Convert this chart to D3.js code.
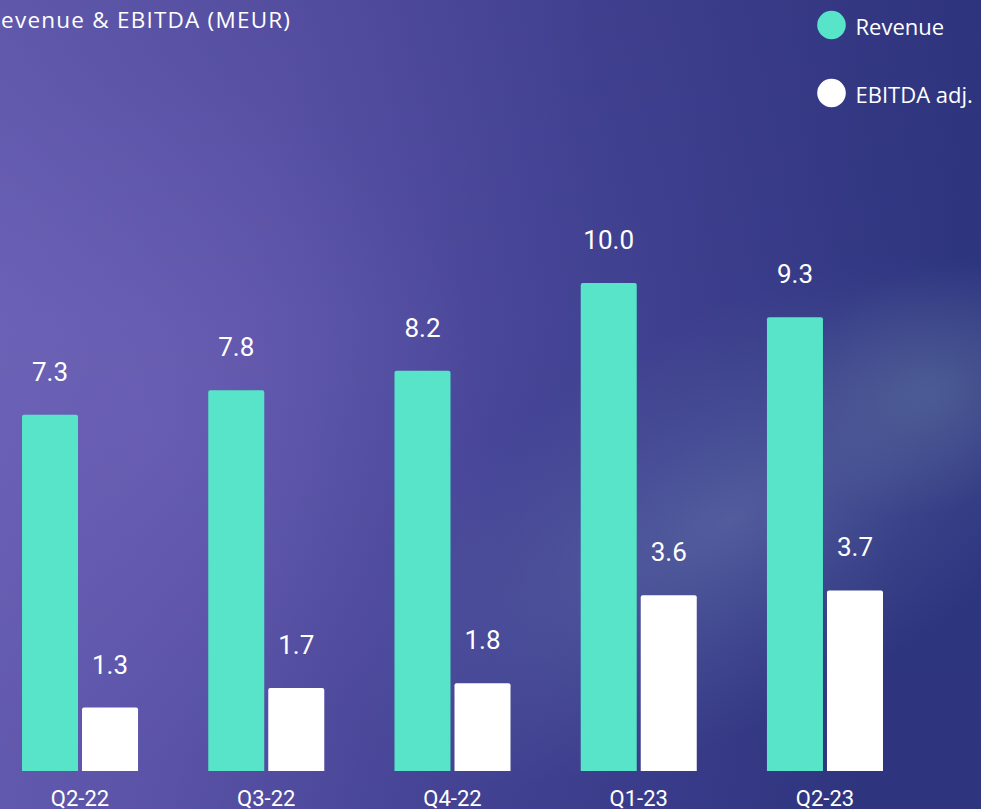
<!DOCTYPE html>
<html>
<head>
<meta charset="utf-8">
<script src="https://cdn.jsdelivr.net/npm/d3@7"></script>
<style>
  html, body { margin: 0; padding: 0; overflow: hidden; }
  svg { display: block; }
</style>
</head>
<body>
<script>
const categories = ["Q2-22", "Q3-22", "Q4-22", "Q1-23", "Q2-23"];
const seriesNames = ["Revenue", "EBITDA adj."];
const revenue = [7.3, 7.8, 8.2, 10.0, 9.3];
const ebitda = [1.3, 1.7, 1.8, 3.6, 3.7];
const seriesValues = [revenue, ebitda];
const seriesColors = ["#57e4c9", "#ffffff"];
const titleText = "Revenue & EBITDA (MEUR)";

const W = 981, H = 809;
const svg = d3.select("body").append("svg").attr("width", W).attr("height", H);
const defs = svg.append("defs");

// Background gradients
const lg = defs.append("linearGradient").attr("id", "bg").attr("x1", "0").attr("y1", "0").attr("x2", "1").attr("y2", "0.15");
lg.append("stop").attr("offset", "0").attr("stop-color", "#6b62b7");
lg.append("stop").attr("offset", "0.3").attr("stop-color", "#5d55aa");
lg.append("stop").attr("offset", "0.6").attr("stop-color", "#454496");
lg.append("stop").attr("offset", "1").attr("stop-color", "#2f3680");
svg.append("rect").attr("width", W).attr("height", H).attr("fill", "url(#bg)");

const dk = defs.append("linearGradient").attr("id", "dk").attr("x1", "0").attr("y1", "0").attr("x2", "0").attr("y2", "1");
dk.append("stop").attr("offset", "0").attr("stop-color", "#1e2060").attr("stop-opacity", 0.15);
dk.append("stop").attr("offset", "0.4").attr("stop-color", "#1e2060").attr("stop-opacity", 0);
dk.append("stop").attr("offset", "1").attr("stop-color", "#1e2060").attr("stop-opacity", 0.05);
svg.append("rect").attr("width", W).attr("height", H).attr("fill", "url(#dk)");

// diffuse elliptical glow, rotated
const rg = defs.append("radialGradient").attr("id", "glow").attr("gradientUnits", "userSpaceOnUse")
  .attr("cx", 0).attr("cy", 0).attr("r", 1)
  .attr("gradientTransform", "translate(730,520) rotate(-28) scale(420,200)");
rg.append("stop").attr("offset", "0").attr("stop-color", "#7d93bd").attr("stop-opacity", 0.38);
rg.append("stop").attr("offset", "0.55").attr("stop-color", "#7388b8").attr("stop-opacity", 0.16);
rg.append("stop").attr("offset", "1").attr("stop-color", "#6a80b0").attr("stop-opacity", 0);
svg.append("rect").attr("width", W).attr("height", H).attr("fill", "url(#glow)");

const rg3 = defs.append("radialGradient").attr("id", "glow3").attr("gradientUnits", "userSpaceOnUse")
  .attr("cx", 0).attr("cy", 0).attr("r", 1)
  .attr("gradientTransform", "translate(930,390) rotate(-20) scale(160,120)");
rg3.append("stop").attr("offset", "0").attr("stop-color", "#6e88aa").attr("stop-opacity", 0.35);
rg3.append("stop").attr("offset", "1").attr("stop-color", "#6e88aa").attr("stop-opacity", 0);
svg.append("rect").attr("width", W).attr("height", H).attr("fill", "url(#glow3)");

const rg2 = defs.append("radialGradient").attr("id", "glow2").attr("gradientUnits", "userSpaceOnUse")
  .attr("cx", 150).attr("cy", 420).attr("r", 340);
rg2.append("stop").attr("offset", "0").attr("stop-color", "#7a6cc0").attr("stop-opacity", 0.3);
rg2.append("stop").attr("offset", "1").attr("stop-color", "#7a6cc0").attr("stop-opacity", 0);
svg.append("rect").attr("width", W).attr("height", H).attr("fill", "url(#glow2)");

// Scales
const x0 = d3.scaleBand().domain(categories).range([-13.1, 918.1]).paddingInner(0.377).paddingOuter(0.1885);
const x1 = d3.scaleBand().domain(seriesNames).range([0, x0.bandwidth()]).paddingInner(0.0667).paddingOuter(0);
const y = d3.scaleLinear().domain([0, 10]).range([771, 283]);

const data = categories.map((c, i) => ({
  cat: c,
  vals: seriesNames.map((s, j) => ({ s, j, v: seriesValues[j][i] }))
}));

function topRounded(x, yT, w, h, r) {
  return `M${x},${yT + h}V${yT + r}Q${x},${yT} ${x + r},${yT}H${x + w - r}Q${x + w},${yT} ${x + w},${yT + r}V${yT + h}Z`;
}

const groups = svg.append("g").selectAll("g").data(data).join("g")
  .attr("transform", d => `translate(${x0(d.cat)},0)`);

groups.selectAll("path").data(d => d.vals).join("path")
  .attr("d", d => topRounded(x1(d.s), y(d.v), x1.bandwidth(), y(0) - y(d.v), 2))
  .attr("fill", d => seriesColors[d.j]);

groups.selectAll("text.val").data(d => d.vals).join("text")
  .attr("class", "val")
  .attr("x", d => x1(d.s) + x1.bandwidth() / 2)
  .attr("y", d => y(d.v) - 34)
  .attr("text-anchor", "middle")
  .attr("font-family", "Roboto, sans-serif")
  .attr("font-size", 26)
  .attr("fill", "#ffffff")
  .text(d => d.v.toFixed(1));

// X axis labels
const xAxis = d3.axisBottom(x0).tickSize(0).tickPadding(0);
const ax = svg.append("g").attr("transform", "translate(0,789)").call(xAxis);
ax.select(".domain").remove();
ax.selectAll("text")
  .attr("dy", 0)
  .attr("y", 17)
  .attr("font-family", "Roboto, sans-serif")
  .attr("font-size", 22)
  .attr("fill", "#ffffff");

// Title (left edge cropped as in the reference)
svg.append("text")
  .attr("x", -14).attr("y", 28)
  .attr("textLength", 304)
  .attr("lengthAdjust", "spacing")
  .attr("font-family", "'Open Sans', sans-serif")
  .attr("font-size", 22.5)
  .attr("fill", "#ffffff")
  .text(titleText);

// Legend
const legendY = [25, 93];
const lgd = svg.append("g").selectAll("g").data(seriesNames).join("g")
  .attr("transform", (d, i) => `translate(831.5,${legendY[i]})`);
lgd.append("circle").attr("r", 14.3).attr("fill", (d, i) => seriesColors[i]);
lgd.append("text")
  .attr("x", 24).attr("y", 10)
  .attr("font-family", "'Open Sans', sans-serif")
  .attr("font-size", 22)
  .attr("fill", "#ffffff")
  .text(d => d);
</script>
</body>
</html>
